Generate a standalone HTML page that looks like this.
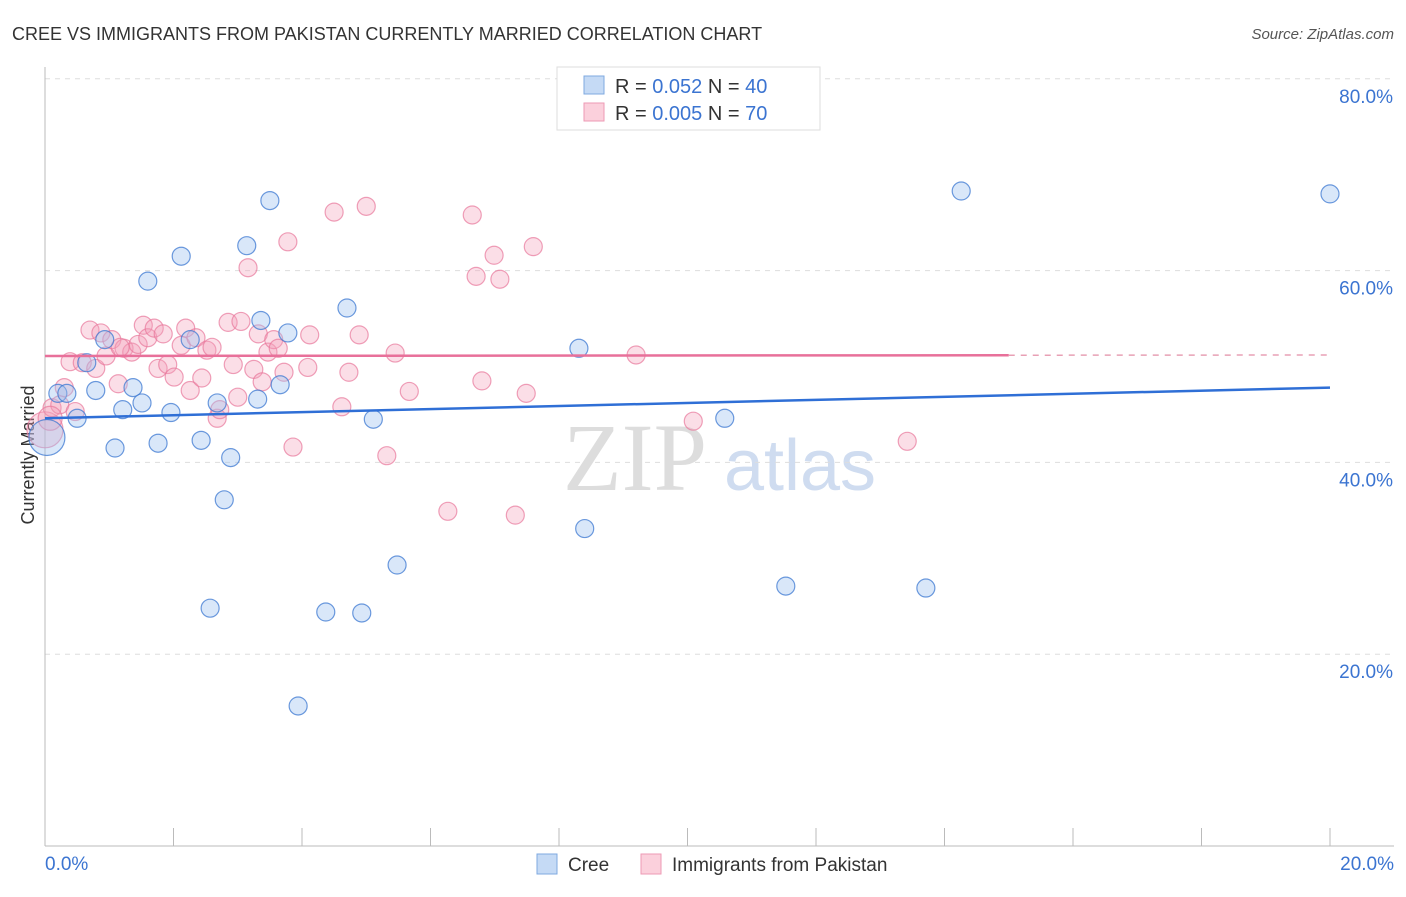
<!DOCTYPE html>
<html><head><meta charset="utf-8"><style>
body{margin:0;background:#fff;font-family:"Liberation Sans",sans-serif;}
</style></head><body>
<svg width="1406" height="892" xmlns="http://www.w3.org/2000/svg" id="svg">
<text x="12" y="40" font-size="18" fill="#333">CREE VS IMMIGRANTS FROM PAKISTAN CURRENTLY MARRIED CORRELATION CHART</text>
<text x="1394" y="39" font-size="15" fill="#555" font-style="italic" text-anchor="end">Source: ZipAtlas.com</text>
<text x="635" y="490" font-size="96" fill="#ddd" font-family="Liberation Serif" text-anchor="middle">ZIP</text>
<text x="800" y="490" font-size="72" fill="#cfdcf0" text-anchor="middle">atlas</text>
<text transform="translate(34,455) rotate(-90)" font-size="18" fill="#333" text-anchor="middle">Currently Married</text>
<g id="grid"></g><g id="pts"></g><g id="lines"></g>
<g>
<rect x="557" y="67" width="263" height="63" fill="#fff" stroke="#ddd"/>
<rect x="584" y="76" width="20" height="18" fill="#c5daf5" stroke="#7fa9e0"/>
<text x="615" y="93" font-size="20" fill="#333">R = <tspan fill="#3b74d1">0.052</tspan>   N = <tspan fill="#3b74d1">40</tspan></text>
<rect x="584" y="103" width="20" height="18" fill="#fbd0dc" stroke="#ee9ab4"/>
<text x="615" y="120" font-size="20" fill="#333">R = <tspan fill="#3b74d1">0.005</tspan>   N = <tspan fill="#3b74d1">70</tspan></text>
</g>
<g>
<rect x="537" y="854" width="20" height="20" fill="#c5daf5" stroke="#7fa9e0"/>
<text x="568" y="871" font-size="19" fill="#333">Cree</text>
<rect x="641" y="854" width="20" height="20" fill="#fbd0dc" stroke="#ee9ab4"/>
<text x="672" y="871" font-size="19" fill="#333">Immigrants from Pakistan</text>
</g>
</svg>
<script>
const yTicks=[20,40,60,80];
const yTickLabels=["20.0%","40.0%","60.0%","80.0%"];
const xTickLabels=["0.0%","20.0%"];
const creeX=[0.03,0.2,0.34,0.5,0.65,0.79,0.93,1.09,1.21,1.37,1.51,1.6,1.76,1.96,2.12,2.26,2.43,2.57,2.68,2.79,2.89,3.14,3.31,3.36,3.5,3.66,3.78,3.94,4.37,4.7,4.93,5.11,5.48,8.31,8.4,10.58,11.53,13.71,14.26,20.0];
const creeY=[42.6,47.2,47.2,44.6,50.4,47.5,52.8,41.5,45.5,47.8,46.2,58.9,42.0,45.2,61.5,52.8,42.3,24.8,46.2,36.1,40.5,62.6,46.6,54.8,67.3,48.1,53.5,14.6,24.4,56.1,24.3,44.5,29.3,51.9,33.1,44.6,27.1,26.9,68.3,68.0];
const pakX=[0,0.11,0.23,0.3,0.39,0.47,0.58,0.7,0.79,0.87,0.95,1.04,1.14,1.23,1.35,1.45,1.53,1.6,1.7,1.76,1.84,1.91,2.01,2.12,2.19,2.26,2.35,2.44,2.52,2.6,2.68,2.72,2.85,2.93,3.0,3.05,3.16,3.25,3.32,3.38,3.47,3.56,3.63,3.72,3.78,3.86,4.09,4.12,4.5,4.62,4.73,4.89,5.0,5.32,5.45,5.67,6.27,6.65,6.71,6.8,6.99,7.08,7.32,7.49,7.6,9.2,10.09,13.42,0.08,1.17];
const pakY=[43.4,45.7,46.0,47.8,50.5,45.3,50.4,53.8,49.8,53.5,51.1,52.8,48.2,51.9,51.5,52.3,54.3,53.0,54.0,49.8,53.4,50.2,48.9,52.2,54.0,47.5,53.0,48.8,51.7,52.0,44.6,45.5,54.6,50.2,46.8,54.7,60.3,49.7,53.4,48.4,51.5,52.8,51.9,49.4,63.0,41.6,49.9,53.3,66.1,45.8,49.4,53.3,66.7,40.7,51.4,47.4,34.9,65.8,59.4,48.5,61.6,59.1,34.5,47.2,62.5,51.2,44.3,42.2,44.6,52.0];
const creeTrend=[44.6,47.8];
const pakTrend=[51.1,51.2];
const NS="http://www.w3.org/2000/svg";
const X=v=>45+v/20*1285, Y=v=>846-v*9.59;
function mk(t,a,p){const e=document.createElementNS(NS,t);for(const k in a)e.setAttribute(k,a[k]);p.appendChild(e);return e;}
const grid=document.getElementById('grid');
yTicks.forEach((t,i)=>{
 const l=mk('line',{x1:45,x2:1394,y1:Y(t),y2:Y(t),stroke:'#ddd','stroke-dasharray':'5,5'},grid);
 
 
 const tx=mk('text',{x:1393,y:Y(t)+24,'font-size':19,fill:'#3b74d1','text-anchor':'end'},grid);
 tx.textContent=yTickLabels[i];
 
 
});
const ax=mk('line',{x1:45,x2:1394,y1:846,y2:846,stroke:'#bbb'},grid);


const ay=mk('line',{x1:45,x2:45,y1:67,y2:846,stroke:'#bbb'},grid);


for(let i=1;i<=10;i++){const t=mk('line',{x1:X(i*2),x2:X(i*2),y1:828,y2:846,stroke:'#bbb'},grid);
 
 }
[[0,'start',45],[20,'end',1394]].forEach((d,i)=>{const t=mk('text',{x:d[2],y:870,'font-size':19,fill:'#3b74d1','text-anchor':d[1]},grid);t.textContent=xTickLabels[i];
 
 });
const pts=document.getElementById('pts');
pakX.forEach((x,i)=>{const r=(i===0)?18:(i===68?12:9);const c=mk('circle',{cx:X(x),cy:Y(pakY[i]),r:r,fill:'rgba(244,160,185,0.35)',stroke:'rgba(232,120,155,0.7)','stroke-width':1.2},pts);
 
 });
creeX.forEach((x,i)=>{const r=(i===0)?18:9;const c=mk('circle',{cx:X(x),cy:Y(creeY[i]),r:r,fill:'rgba(160,195,240,0.4)',stroke:'rgba(60,120,210,0.75)','stroke-width':1.2},pts);
 
 });
const lines=document.getElementById('lines');
const bl=mk('line',{x1:X(0),x2:X(20),y1:Y(creeTrend[0]),y2:Y(creeTrend[1]),stroke:'#2f6fd6','stroke-width':2.5},lines);


const xe=15;const pe=pakTrend[0]+(pakTrend[1]-pakTrend[0])*xe/20;
const pl=mk('line',{x1:X(0),x2:X(xe),y1:Y(pakTrend[0]),y2:Y(pe),stroke:'#e8709a','stroke-width':2.5},lines);


const pd=mk('line',{x1:X(xe),x2:X(20),y1:Y(pe),y2:Y(pakTrend[1]),stroke:'#e8a0b5','stroke-width':1.5,'stroke-dasharray':'6,6'},lines);


</script>
</body></html>
